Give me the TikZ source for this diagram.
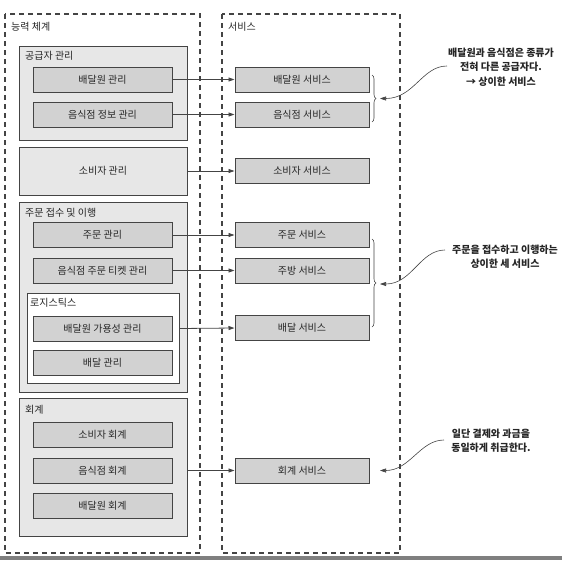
\documentclass[tikz,border=0pt]{standalone}
\usepackage{fontspec}
\setmainfont{Noto Sans CJK KR}
\usetikzlibrary{arrows.meta,decorations.pathreplacing}
\definecolor{edgegray}{HTML}{444444}
\definecolor{groupfill}{HTML}{E7E7E7}
\definecolor{boxfill}{HTML}{D2D2D2}
\definecolor{txtgray}{HTML}{262626}
\definecolor{bargray}{HTML}{7F7F7F}
\tikzset{
  zone/.style={draw=edgegray, line width=1.1pt, dash pattern=on 5pt off 4pt},
  groupbox/.style={draw=edgegray, fill=groupfill, line width=0.9pt, minimum width=168pt, inner sep=0pt},
  logibox/.style={draw=edgegray, fill=white, line width=0.9pt, minimum width=152pt, minimum height=90pt, inner sep=0pt},
  capbox/.style={draw=edgegray, fill=boxfill, line width=1pt, minimum width=139pt, minimum height=25pt,
    inner sep=0pt, text=txtgray, font=\fontsize{10pt}{12pt}\selectfont},
  svcbox/.style={capbox, minimum width=134pt},
  grouplabel/.style={anchor=west, inner sep=0pt, text=txtgray, font=\fontsize{10pt}{12pt}\selectfont},
  flow/.style={draw=edgegray, line width=0.8pt, -{Triangle[length=6pt,width=4pt]}},
  curly/.style={draw=edgegray, line width=0.6pt, decorate, decoration={brace, amplitude=4pt}},
  note/.style={align=center, inner sep=0pt, text=black!85, font=\fontsize{10pt}{14.5pt}\selectfont\bfseries},
  callout/.style={draw=edgegray, line width=0.6pt, -{Triangle[length=6pt,width=4pt]}},
}
\begin{document}
\begin{tikzpicture}[x=1pt, y=-1pt]
\useasboundingbox (0,0) rectangle (567,560);

% strip along the bottom edge
\fill[bargray] (0,556) rectangle (562,560);

% the two dashed zones
\draw[zone] (5,14) rectangle (200,553);
\draw[zone] (222,14) rectangle (400,553);
\node[grouplabel] (capzone) at (11,27) {능력 체계};
\node[grouplabel] (svczone) at (228,27) {서비스};

% supplier management
\node[groupbox, minimum height=94pt] (sup) at (103,93) {};
\node[grouplabel] (suplbl) at (25,56) {공급자 관리};
\node[capbox] (courier) at (102.5,79.5) {배달원 관리};
\node[capbox] (restinfo) at (102.5,114.5) {음식점 정보 관리};

% consumer management
\node[groupbox, minimum height=48pt, text=txtgray, font=\fontsize{10pt}{12pt}\selectfont] (consumer) at (103,171) {소비자 관리};

% order taking and fulfilment
\node[groupbox, minimum height=190pt] (ordg) at (103,297) {};
\node[grouplabel] (ordlbl) at (25,213) {주문 접수 및 이행};
\node[capbox] (ordmgmt) at (102.5,235) {주문 관리};
\node[capbox] (ticket) at (102.5,270.5) {음식점 주문 티켓 관리};
\node[logibox] (logi) at (103,338) {};
\node[grouplabel] (logilbl) at (30,303) {로지스틱스};
\node[capbox] (avail) at (102.5,328.5) {배달원 가용성 관리};
\node[capbox] (delmgmt) at (102.5,363) {배달 관리};

% accounting
\node[groupbox, minimum height=138pt] (acct) at (103,467) {};
\node[grouplabel] (acctlbl) at (25,410) {회계};
\node[capbox] (accons) at (102.5,435) {소비자 회계};
\node[capbox] (acrest) at (102.5,470.5) {음식점 회계};
\node[capbox] (accour) at (102.5,505.5) {배달원 회계};

% services
\node[svcbox] (scourier) at (302,79.5) {배달원 서비스};
\node[svcbox] (srest) at (302,114.5) {음식점 서비스};
\node[svcbox] (scons) at (302,171) {소비자 서비스};
\node[svcbox] (sorder) at (302,235) {주문 서비스};
\node[svcbox] (skitchen) at (302,270.5) {주방 서비스};
\node[svcbox] (sdelivery) at (302,328) {배달 서비스};
\node[svcbox] (sacct) at (302,470.5) {회계 서비스};

% capability -> service
\draw[flow] (courier.east) -- (scourier.west);
\draw[flow] (restinfo.east) -- (srest.west);
\draw[flow] (consumer.east) -- (scons.west);
\draw[flow] (ordmgmt.east) -- (sorder.west);
\draw[flow] (ticket.east) -- (skitchen.west);
\draw[flow] (avail.east -| logi.east) -- (sdelivery.west);
\draw[flow] (acrest.east -| acct.east) -- (sacct.west);

% braces grouping services
\coordinate (b1top) at (372,75);
\coordinate (b1bot) at (372,122);
\coordinate (b1tip) at (380,98.5);
\draw[curly] (b1top) -- (b1bot);
\coordinate (b2top) at (372,239);
\coordinate (b2bot) at (372,327);
\coordinate (b2tip) at (380,284);
\draw[curly] (b2top) -- (b2bot);
\coordinate (b3tip) at (380,470.5);

% notes
\node[note] (note1) at (501,67) {배달원과 음식점은 종류가\\전혀 다른 공급자다.\\→ 상이한 서비스};
\node[note] (note2) at (505,257) {주문을 접수하고 이행하는\\상이한 세 서비스};
\node[note] (note3) at (491,441) {일단 결제와 과금을\\동일하게 취급한다.};
\coordinate (n1s) at (447,66);
\coordinate (n2s) at (445,250);
\coordinate (n3s) at (444,440);

\draw[callout] (n1s) .. controls (422,66) and (414,98.5) .. (b1tip);
\draw[callout] (n2s) .. controls (420,250) and (412,284) .. (b2tip);
\draw[callout] (n3s) .. controls (420,440) and (410,470.5) .. (b3tip);
\end{tikzpicture}
\end{document}
